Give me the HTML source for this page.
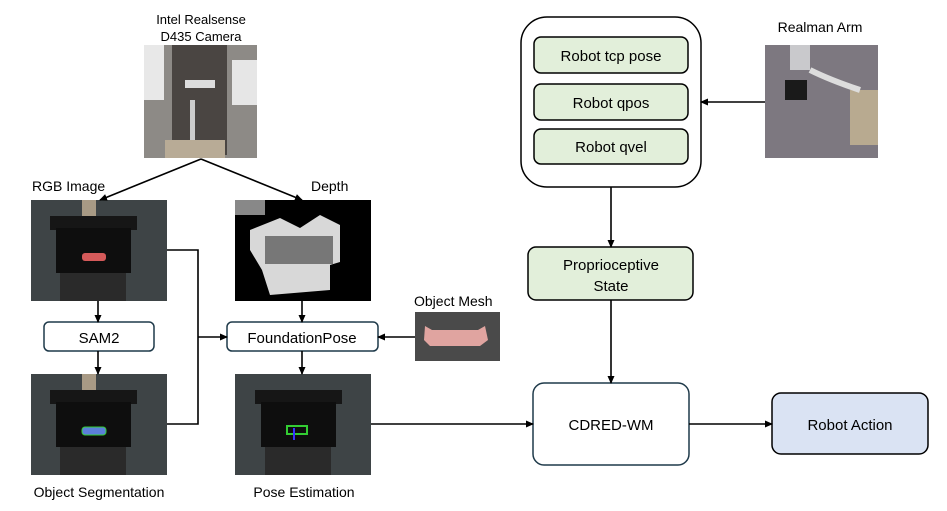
<!DOCTYPE html>
<html><head><meta charset="utf-8"><style>
html,body{margin:0;padding:0;background:#fff;}
svg{display:block;font-family:"Liberation Sans",sans-serif;}
</style></head><body>
<svg width="947" height="511" viewBox="0 0 947 511" xmlns="http://www.w3.org/2000/svg">
<defs>
<marker id="ah" markerWidth="8" markerHeight="8" refX="7" refY="4" orient="auto" markerUnits="userSpaceOnUse">
<path d="M0,0.5 L8,4 L0,7.5 z" fill="#000"/></marker>
</defs>
<g font-size="13" fill="#000" text-anchor="middle">
<text x="201" y="24">Intel Realsense</text>
<text x="201" y="41">D435 Camera</text>
<text x="820" y="32" font-size="14">Realman Arm</text>
</g>
<!-- camera image -->
<g>
<rect x="144" y="45" width="113" height="113" fill="#8d8a86"/>
<rect x="144" y="45" width="20" height="55" fill="#e8e8e8"/>
<rect x="232" y="60" width="25" height="45" fill="#e6e6e6"/>
<rect x="172" y="45" width="55" height="110" fill="#4a4542"/>
<rect x="165" y="140" width="60" height="18" fill="#b8ab96"/>
<rect x="185" y="80" width="30" height="8" fill="#ddd"/>
<rect x="190" y="100" width="5" height="40" fill="#ccc"/>
</g>
<!-- arm image -->
<g>
<rect x="765" y="45" width="113" height="113" fill="#7d7880"/>
<rect x="790" y="45" width="20" height="25" fill="#c9c9cc"/>
<rect x="850" y="90" width="28" height="55" fill="#b8aa90"/>
<rect x="785" y="80" width="22" height="20" fill="#1a1a1a"/>
<path d="M810,70 Q830,80 860,90" stroke="#ddd" stroke-width="6" fill="none"/>
</g>
<!-- RGB labels -->
<text x="32" y="191" font-size="14">RGB Image</text>
<text x="311" y="191" font-size="14">Depth</text>
<text x="414" y="306" font-size="14">Object Mesh</text>
<text x="99" y="497" font-size="14" text-anchor="middle">Object Segmentation</text>
<text x="304" y="497" font-size="14" text-anchor="middle">Pose Estimation</text>
<!-- RGB image -->
<g>
<rect x="31" y="200" width="136" height="101" fill="#3e4446"/>
<rect x="82" y="200" width="14" height="18" fill="#a89a85"/>
<rect x="50" y="216" width="87" height="14" fill="#161616"/>
<rect x="56" y="228" width="75" height="45" fill="#0e0e0e"/>
<rect x="82" y="253" width="24" height="8" rx="3" fill="#d55a5a"/>
<rect x="60" y="273" width="66" height="28" fill="#2a2a2a"/>
</g>
<!-- Seg image -->
<g>
<rect x="31" y="374" width="136" height="101" fill="#3e4446"/>
<rect x="82" y="374" width="14" height="18" fill="#a89a85"/>
<rect x="50" y="390" width="87" height="14" fill="#161616"/>
<rect x="56" y="402" width="75" height="45" fill="#0e0e0e"/>
<rect x="82" y="427" width="24" height="8" rx="3" fill="#5b7fd9" stroke="#3c3" stroke-width="1"/>
<rect x="60" y="447" width="66" height="28" fill="#2a2a2a"/>
</g>
<!-- Depth image -->
<g>
<rect x="235" y="200" width="136" height="101" fill="#000"/>
<rect x="235" y="200" width="30" height="15" fill="#888"/>
<path d="M250,230 L280,218 L300,228 L320,215 L340,225 L340,262 L330,265 L330,290 L270,295 L262,270 L250,250 z" fill="#d8d8d8"/>
<rect x="265" y="236" width="68" height="28" fill="#777"/>
</g>
<!-- Pose image -->
<g>
<rect x="235" y="374" width="136" height="101" fill="#3e4446"/>
<rect x="255" y="390" width="87" height="14" fill="#161616"/>
<rect x="261" y="402" width="75" height="45" fill="#0e0e0e"/>
<rect x="287" y="426" width="20" height="8" fill="none" stroke="#3c3" stroke-width="2"/>
<rect x="293" y="428" width="2" height="12" fill="#33f"/>
<rect x="265" y="447" width="66" height="28" fill="#2a2a2a"/>
</g>
<!-- mesh image -->
<g>
<rect x="415" y="312" width="85" height="49" fill="#4a4a4a"/>
<path d="M425,326 L432,330 L478,330 L485,326 L488,340 L480,346 L430,346 L424,340 z" fill="#e0a4a0"/>
</g>
<!-- boxes -->
<rect x="44" y="322" width="110" height="29" rx="5" fill="#fff" stroke="#1f3a4a" stroke-width="1.5"/>
<text x="99" y="343" font-size="15" text-anchor="middle">SAM2</text>
<rect x="227" y="322" width="151" height="29" rx="5" fill="#fff" stroke="#1f3a4a" stroke-width="1.5"/>
<text x="302" y="343" font-size="15" text-anchor="middle">FoundationPose</text>
<rect x="521" y="17" width="180" height="170" rx="26" fill="#fff" stroke="#000" stroke-width="1.5"/>
<g fill="#e2efda" stroke="#000" stroke-width="1.5">
<rect x="534" y="37" width="154" height="36" rx="7"/>
<rect x="534" y="84" width="154" height="36" rx="7"/>
<rect x="534" y="129" width="154" height="35" rx="7"/>
<rect x="528" y="247" width="165" height="53" rx="8"/>
</g>
<g font-size="15" text-anchor="middle">
<text x="611" y="61">Robot tcp pose</text>
<text x="611" y="108">Robot qpos</text>
<text x="611" y="152">Robot qvel</text>
<text x="611" y="270">Proprioceptive</text>
<text x="611" y="291">State</text>
</g>
<rect x="533" y="383" width="156" height="82" rx="11" fill="#fff" stroke="#1f3a4a" stroke-width="1.5"/>
<text x="611" y="430" font-size="15" text-anchor="middle">CDRED-WM</text>
<rect x="772" y="393" width="156" height="61" rx="9" fill="#dae3f3" stroke="#000" stroke-width="1.5"/>
<text x="850" y="430" font-size="15" text-anchor="middle">Robot Action</text>
<!-- connectors -->
<g stroke="#000" stroke-width="1.6" fill="none">
<line x1="201" y1="159" x2="100" y2="200" marker-end="url(#ah)"/>
<line x1="201" y1="159" x2="302" y2="200" marker-end="url(#ah)"/>
<line x1="98" y1="301" x2="98" y2="322" marker-end="url(#ah)"/>
<line x1="98" y1="351" x2="98" y2="374" marker-end="url(#ah)"/>
<line x1="302" y1="301" x2="302" y2="322" marker-end="url(#ah)"/>
<line x1="302" y1="351" x2="302" y2="374" marker-end="url(#ah)"/>
<polyline points="167,250 198,250 198,424 167,424"/>
<line x1="198" y1="337" x2="227" y2="337" marker-end="url(#ah)"/>
<line x1="415" y1="337" x2="378" y2="337" marker-end="url(#ah)"/>
<line x1="371" y1="424" x2="533" y2="424" marker-end="url(#ah)"/>
<line x1="765" y1="102" x2="701" y2="102" marker-end="url(#ah)"/>
<line x1="611" y1="187" x2="611" y2="247" marker-end="url(#ah)"/>
<line x1="611" y1="300" x2="611" y2="383" marker-end="url(#ah)"/>
<line x1="689" y1="424" x2="772" y2="424" marker-end="url(#ah)"/>
</g>
</svg>
</body></html>
